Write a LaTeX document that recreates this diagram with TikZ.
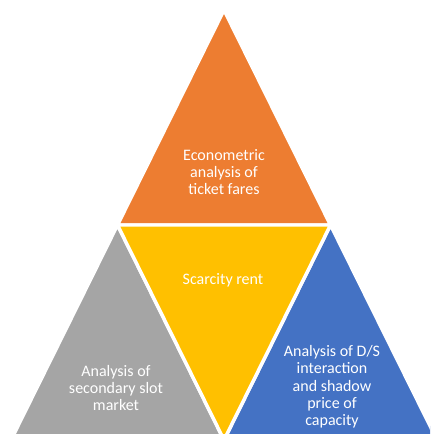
\documentclass[tikz,border=0pt]{standalone}
\usepackage{fontspec}
\setmainfont{Carlito}
\usetikzlibrary{calc}
\definecolor{cOrange}{HTML}{ED7D31}
\definecolor{cYellow}{HTML}{FFC000}
\definecolor{cGray}{HTML}{A5A5A5}
\definecolor{cBlue}{HTML}{4472C4}
\begin{document}
\begin{tikzpicture}[x=0.75pt,y=-0.75pt,
  tri/.style={draw=white,line width=2.6pt,line join=miter},
  lbl/.style={text=white,align=center,font=\fontsize{12}{13}\selectfont,inner sep=0pt}]
\useasboundingbox (0,0) rectangle (430,434);
\begin{scope}
\clip (0,0) rectangle (430,434);
\coordinate (A) at (224,10);
\coordinate (L) at (11,440);
\coordinate (R) at (437,440);
\coordinate (ML) at ($(A)!0.5!(L)$);
\coordinate (MR) at ($(A)!0.5!(R)$);
\coordinate (MB) at ($(L)!0.5!(R)$);
\fill[white] (0,0) rectangle (430,434);
\filldraw[tri,fill=cOrange] (A) -- (ML) -- (MR) -- cycle;
\filldraw[tri,fill=cGray] (ML) -- (L) -- (MB) -- cycle;
\filldraw[tri,fill=cBlue] (MR) -- (MB) -- (R) -- cycle;
\filldraw[tri,fill=cYellow] (ML) -- (MR) -- (MB) -- cycle;
\end{scope}
\node[lbl] (top) at (224,172) {Econometric\\analysis of\\ticket fares};
\node[lbl] (mid) at (223,280) {Scarcity rent};
\node[lbl] (left) at (116,388) {Analysis of\\secondary slot\\market};
\node[lbl] (right) at (332,387) {Analysis of D/S\\interaction\\and shadow\\price of\\capacity};
\end{tikzpicture}
\end{document}
